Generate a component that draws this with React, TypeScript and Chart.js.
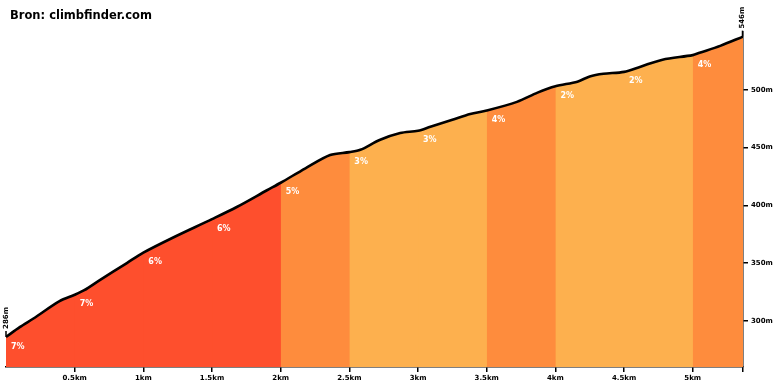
import React, { useEffect, useRef } from "react";
import { Chart, registerables } from "chart.js";

Chart.register(...registerables);

const titleText = "Bron: climbfinder.com";
const distKm = [0, 0.1, 0.2, 0.39, 0.5, 0.57, 0.68, 0.88, 1.0, 1.21, 1.5, 1.68, 1.9, 2.0, 2.18, 2.36, 2.5, 2.58, 2.72, 2.87, 3.0, 3.09, 3.25, 3.38, 3.5, 3.72, 3.87, 4.0, 4.16, 4.25, 4.35, 4.5, 4.62, 4.78, 5.0, 5.05, 5.2, 5.366];
const elevM = [286, 294.5, 302, 317, 322.5, 326.5, 335, 350, 359, 371.7, 388, 398.5, 413, 419.5, 432, 443.5, 446, 448, 456.5, 462.5, 464.5, 468, 474, 479, 482, 489.5, 497.5, 503, 507, 511.5, 513.8, 515.5, 520, 526, 530, 532, 538, 546];
const segStartKm = [0, 0.5, 1, 1.5, 2, 2.5, 3, 3.5, 4, 4.5, 5];
const gradePct = [7, 7, 6, 6, 5, 3, 3, 4, 2, 2, 4];
const xTickKm = [0.5, 1, 1.5, 2, 2.5, 3, 3.5, 4, 4.5, 5];
const yTickM = [300, 350, 400, 450, 500];
const startLabel = "286m";
const endLabel = "546m";

const RED = "#fe4f2d";
const ORANGE = "#fe8c3d";
const LIGHT = "#fdb04e";
const FONT = '"DejaVu Sans", Verdana, sans-serif';
const TENSION = 0.3;

function gradeColor(g: number) {
  if (g >= 6) return RED;
  if (g >= 4) return ORANGE;
  return LIGHT;
}

const maxKm = distKm[distKm.length - 1];

const annotations = {
  id: "annotations",
  afterDraw(chart: any) {
    const ctx = chart.ctx;
    const xs = chart.scales.x;
    const ys = chart.scales.y;
    ctx.save();
    ctx.fillStyle = "#000";
    ctx.font = `bold 11.5px ${FONT}`;
    ctx.textAlign = "left";
    ctx.textBaseline = "alphabetic";
    ctx.fillText(titleText, 10, 19);

    ctx.font = `bold 8px ${FONT}`;
    ctx.fillStyle = "#fff";
    ctx.textBaseline = "middle";
    segStartKm.forEach((s, i) => {
      const j = distKm.findIndex((d) => Math.abs(d - s) < 1e-6);
      if (j < 0) return;
      const px = xs.getPixelForValue(s);
      const py = ys.getPixelForValue(elevM[j]);
      ctx.fillText(gradePct[i] + "%", px + 5, py + 9.5);
    });

    const pts = [
      { x: distKm[0], y: elevM[0], t: startLabel },
      { x: maxKm, y: elevM[elevM.length - 1], t: endLabel },
    ];
    ctx.strokeStyle = "#000";
    ctx.lineWidth = 1.5;
    ctx.fillStyle = "#000";
    ctx.font = `bold 7px ${FONT}`;
    pts.forEach((p) => {
      const px = Math.max(xs.getPixelForValue(p.x), chart.chartArea.left);
      const px2 = Math.min(px, chart.chartArea.right - 0.5);
      const py = ys.getPixelForValue(p.y);
      ctx.beginPath();
      ctx.moveTo(px2, py);
      ctx.lineTo(px2, py - 6);
      ctx.stroke();
      ctx.save();
      ctx.translate(px2, py - 8);
      ctx.rotate(-Math.PI / 2);
      ctx.textAlign = "left";
      ctx.textBaseline = "middle";
      ctx.fillText(p.t, 0, 0);
      ctx.restore();
    });
    ctx.restore();
  },
};

export default function App() {
  const ref = useRef<HTMLCanvasElement | null>(null);
  useEffect(() => {
    if (!ref.current) return;
    const profile = distKm.map((d, i) => ({ x: d, y: elevM[i] }));
    // Each coloured section is filled from its start to the end of the climb;
    // later sections are painted over earlier ones, so no seams appear.
    const fillSets = segStartKm.map((s, i) => ({
      data: profile.filter((p) => p.x >= s - 1e-6),
      borderWidth: 0,
      borderColor: "rgba(0,0,0,0)",
      backgroundColor: gradeColor(gradePct[i]),
      pointRadius: 0,
      tension: TENSION,
      fill: "start",
      order: 100 - i,
    }));
    const lineSet = {
      data: profile,
      borderColor: "#000",
      borderWidth: 2.6,
      pointRadius: 0,
      tension: TENSION,
      fill: false,
      order: 0,
    };
    const chart = new Chart(ref.current, {
      type: "line",
      data: { datasets: [lineSet, ...fillSets] as any },
      options: {
        responsive: false,
        animation: false,
        layout: { padding: { left: 6, top: 32, right: 0, bottom: 0 } },
        plugins: {
          legend: { display: false },
          title: { display: false },
          tooltip: { enabled: false },
        },
        scales: {
          x: {
            type: "linear",
            min: 0,
            max: maxKm,
            position: "bottom",
            afterBuildTicks: (s: any) => {
              s.ticks = [...xTickKm, maxKm].map((v) => ({ value: v }));
            },
            afterFit: (s: any) => {
              s.height = 23;
            },
            ticks: {
              autoSkip: false,
              maxRotation: 0,
              padding: 2,
              color: "#000",
              font: { family: FONT, size: 7, weight: "bold" },
              callback: (v: any) => (Math.abs(v - maxKm) < 1e-6 ? "" : v + "km"),
            },
            grid: {
              drawOnChartArea: false,
              drawTicks: true,
              tickLength: 5,
              color: "#000",
              lineWidth: 1.5,
            },
            border: { display: true, color: "#000", width: 1.5 },
          },
          y: {
            type: "linear",
            min: 260,
            max: 550,
            position: "right",
            afterBuildTicks: (s: any) => {
              s.ticks = yTickM.map((v) => ({ value: v }));
            },
            afterFit: (s: any) => {
              s.width = 37;
            },
            ticks: {
              padding: 3,
              color: "#000",
              font: { family: FONT, size: 7, weight: "bold" },
              callback: (v: any) => v + "m",
            },
            grid: {
              drawOnChartArea: false,
              drawTicks: true,
              tickLength: 5,
              color: "#000",
              lineWidth: 1.5,
            },
            border: { display: true, color: "#000", width: 1.5 },
          },
        },
      } as any,
      plugins: [annotations],
    });
    return () => chart.destroy();
  }, []);
  return (
    <div style={{ position: "absolute", left: 0, top: 0, width: 780, height: 390, background: "#fff" }}>
      <canvas ref={ref} width={780} height={390} style={{ display: "block" }} />
    </div>
  );
}
